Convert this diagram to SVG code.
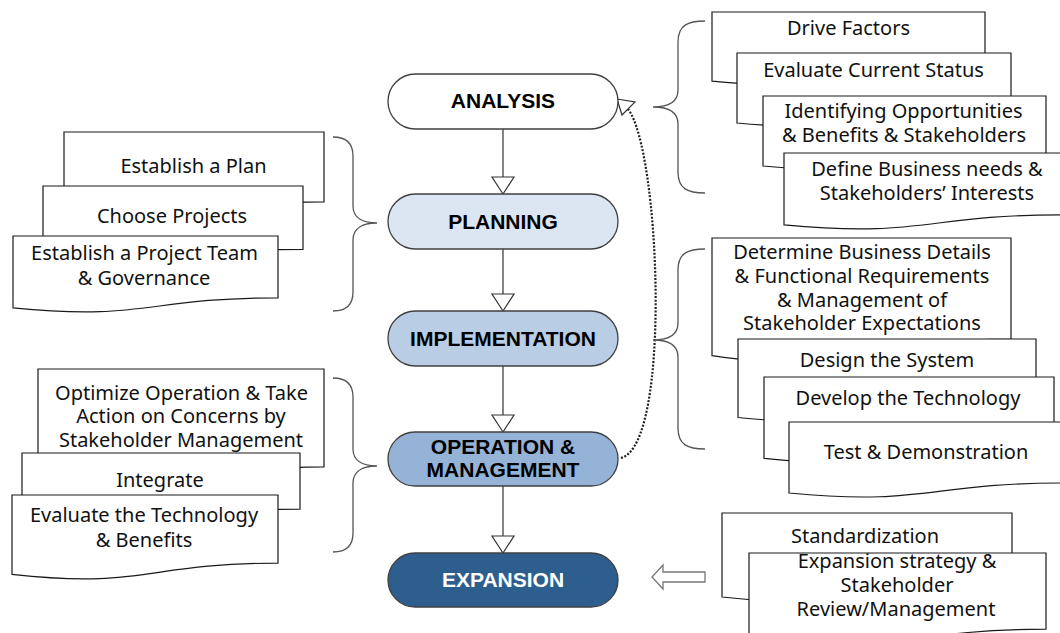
<svg xmlns="http://www.w3.org/2000/svg" width="1060" height="633" viewBox="0 0 1060 633">
<style>
.doc{fill:#fff;stroke:#1a1a1a;stroke-width:1.2}
.dt{font-family:"Noto Sans","Open Sans",sans-serif;font-size:20px;fill:#111;text-anchor:middle}
.node{stroke:#404040;stroke-width:1.3}
.nt{font-family:"Liberation Sans",Arial,sans-serif;font-size:21px;font-weight:bold;fill:#000;text-anchor:middle}
.brace{fill:none;stroke:#555;stroke-width:1.3}
.conn{fill:none;stroke:#333;stroke-width:1.2}
.head{fill:#fff;stroke:#333;stroke-width:1.2}
</style>
<rect width="1060" height="633" fill="#fff"/>

<g id="connectors">
  <line class="conn" x1="503" y1="129" x2="503" y2="177"/>
  <polygon class="head" points="492,177 514,177 503,194"/>
  <line class="conn" x1="503" y1="249" x2="503" y2="294"/>
  <polygon class="head" points="492,294 514,294 503,311"/>
  <line class="conn" x1="503" y1="366" x2="503" y2="415"/>
  <polygon class="head" points="492,415 514,415 503,432"/>
  <line class="conn" x1="503" y1="486" x2="503" y2="536"/>
  <polygon class="head" points="492,536 514,536 503,553"/>
  <path d="M621,458 C672,445 660,150 628,109" fill="none" stroke="#222" stroke-width="2.2" stroke-dasharray="2,1.6"/>
  <polygon class="head" points="617,99 635,102 622,115"/>
  <path d="M705,572 H663 V565 L652,577 L663,589 V582 H705 Z" fill="#fff" stroke="#777" stroke-width="1.3"/>
</g>

<g id="braces">
  <path class="brace" d="M705,21 C688,21 678,25 678,42 L678,90 C678,102 668,107 653,107 C668,107 678,112 678,124 L678,172 C678,189 688,193 705,193"/>
  <path class="brace" d="M705,249 C688,249 678,253 678,270 L678,323 C678,335 668,340 653,340 C668,340 678,345 678,357 L678,428 C678,445 688,449 705,449"/>
  <path class="brace" d="M333,137 C343,137 353,141 353,156 L353,206 C353,218 363,223 377,223 C363,223 353,228 353,240 L353,292 C353,307 343,311 333,311"/>
  <path class="brace" d="M333,378 C343,378 353,382 353,397 L353,449 C353,461 363,466 377,466 C363,466 353,471 353,483 L353,533 C353,548 343,552 333,552"/>
</g>

<g id="analysis">
  <rect class="node" x="388" y="74" width="230" height="55" rx="27.5" fill="#ffffff"/>
  <text class="nt" x="503" y="108">ANALYSIS</text>
</g>
<g id="planning">
  <rect class="node" x="388" y="194" width="230" height="55" rx="27.5" fill="#dce6f2"/>
  <text class="nt" x="503" y="229">PLANNING</text>
</g>
<g id="implementation">
  <rect class="node" x="388" y="311" width="230" height="55" rx="27.5" fill="#b9cde5"/>
  <text class="nt" x="503" y="346">IMPLEMENTATION</text>
</g>
<g id="operation">
  <rect class="node" x="388" y="432" width="230" height="54" rx="27" fill="#95b3d7"/>
  <text class="nt" x="503" y="454">OPERATION &amp;</text>
  <text class="nt" x="503" y="477">MANAGEMENT</text>
</g>
<g id="expansion">
  <rect class="node" x="388" y="553" width="230" height="54" rx="27" fill="#2e5e8e"/>
  <text class="nt" x="503" y="587" fill="#fff" style="fill:#fff">EXPANSION</text>
</g>

<g id="doc-drive-factors">
  <path class="doc" d="M712,12 H985 V71.3 C848.5,71.3 848.5,93.9 712,81.1 Z"/>
  <text class="dt" x="848.5" y="35">Drive Factors</text>
</g>
<g id="doc-evaluate-current">
  <path class="doc" d="M737,53 H1011 V113.2 C874,113.2 874,136 737,123 Z"/>
  <text class="dt" x="873.5" y="77">Evaluate Current Status</text>
</g>
<g id="doc-identifying">
  <path class="doc" d="M763,96 H1046 V156.2 C904.5,156.2 904.5,179 763,166 Z"/>
  <text class="dt" x="903.5" y="118">Identifying Opportunities</text>
  <text class="dt" x="904" y="142">&amp; Benefits &amp; Stakeholders</text>
</g>
<g id="doc-define-business">
  <path class="doc" d="M784,153 H1064 V214.8 C924,214.8 924,238.2 784,224.9 Z"/>
  <text class="dt" x="927" y="176">Define Business needs &amp;</text>
  <text class="dt" x="927" y="200">Stakeholders’ Interests</text>
</g>

<g id="doc-determine">
  <path class="doc" d="M712,238 H1011 V339 C861.5,339 861.5,377.5 712,355.7 Z"/>
  <text class="dt" x="862" y="259">Determine Business Details</text>
  <text class="dt" x="862" y="283">&amp; Functional Requirements</text>
  <text class="dt" x="862" y="307">&amp; Management of</text>
  <text class="dt" x="862" y="330">Stakeholder Expectations</text>
</g>
<g id="doc-design">
  <path class="doc" d="M738,339 H1036 V406.4 C887,406.4 887,432 738,417.5 Z"/>
  <text class="dt" x="887" y="367">Design the System</text>
</g>
<g id="doc-develop">
  <path class="doc" d="M764,377 H1054 V446.8 C909,446.8 909,473.3 764,458.3 Z"/>
  <text class="dt" x="908" y="405">Develop the Technology</text>
</g>
<g id="doc-test">
  <path class="doc" d="M789,422 H1064 V483 C926.5,483 926.5,506.1 789,493 Z"/>
  <text class="dt" x="926" y="459">Test &amp; Demonstration</text>
</g>

<g id="doc-establish-plan">
  <path class="doc" d="M64,132 H324 V201.8 C194,201.8 194,228.3 64,213.3 Z"/>
  <text class="dt" x="193.5" y="173">Establish a Plan</text>
</g>
<g id="doc-choose-projects">
  <path class="doc" d="M43,186 H303 V249.4 C173,249.4 173,273.5 43,259.8 Z"/>
  <text class="dt" x="172" y="223">Choose Projects</text>
</g>
<g id="doc-project-team">
  <path class="doc" d="M13,236 H278 V297.8 C145.5,297.8 145.5,321.2 13,307.9 Z"/>
  <text class="dt" x="144.5" y="260">Establish a Project Team</text>
  <text class="dt" x="144" y="285">&amp; Governance</text>
</g>

<g id="doc-optimize">
  <path class="doc" d="M38,369 H324 V466.8 C181,466.8 181,504 38,483 Z"/>
  <text class="dt" x="181.5" y="400">Optimize Operation &amp; Take</text>
  <text class="dt" x="181" y="423">Action on Concerns by</text>
  <text class="dt" x="181" y="447">Stakeholder Management</text>
</g>
<g id="doc-integrate">
  <path class="doc" d="M22,453 H300 V509.1 C161,509.1 161,530.5 22,518.4 Z"/>
  <text class="dt" x="160" y="487">Integrate</text>
</g>
<g id="doc-evaluate-technology">
  <path class="doc" d="M12,495 H278 V563.2 C145,563.2 145,589.1 12,574.4 Z"/>
  <text class="dt" x="144" y="522">Evaluate the Technology</text>
  <text class="dt" x="144" y="547">&amp; Benefits</text>
</g>

<g id="doc-standardization">
  <path class="doc" d="M722,513 H1012 V585.2 C867,585.2 867,612.6 722,597 Z"/>
  <text class="dt" x="865" y="543">Standardization</text>
</g>
<g id="doc-expansion-strategy">
  <path class="doc" d="M749,553 H1046 V629.2 C897.5,629.2 897.5,658.2 749,641.7 Z"/>
  <text class="dt" x="897" y="568">Expansion strategy &amp;</text>
  <text class="dt" x="897" y="592">Stakeholder</text>
  <text class="dt" x="896" y="616">Review/Management</text>
</g>
</svg>
